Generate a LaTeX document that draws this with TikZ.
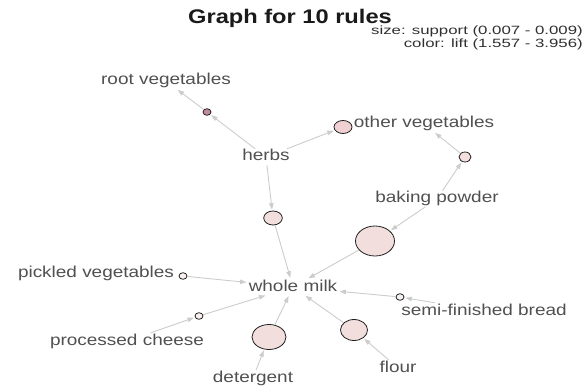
\documentclass[tikz,border=0pt]{standalone}
\usepackage{fontspec}
\setmainfont{Liberation Sans}
\newfontfamily\labfont[FakeStretch=1.2]{Liberation Sans}
\newfontfamily\legfont[FakeStretch=1.4]{Liberation Sans}
\usetikzlibrary{shapes.geometric,arrows.meta}
\definecolor{edgec}{HTML}{CCCCCC}
\definecolor{labc}{HTML}{505050}
\definecolor{titlec}{HTML}{1A1A1A}
\definecolor{legc}{HTML}{303030}
\definecolor{ruleline}{HTML}{202020}
\definecolor{liftmax}{HTML}{C48A9C}
\definecolor{liftmid}{HTML}{F0D0D3}
\definecolor{liftlow}{HTML}{F3DEDE}
\definecolor{liftmin}{HTML}{F9F0F0}
\begin{document}
\begin{tikzpicture}[x=1pt,y=-1pt,
  item/.style={font=\labfont\fontsize{15.8}{18}\selectfont, text=labc, inner sep=1pt, text height=11pt, text depth=3pt},
  rulenode/.style={ellipse, draw=ruleline, line width=0.8pt, inner sep=0pt},
  edge/.style={draw=edgec, line width=0.9pt, -{Triangle[length=6.5pt,width=4.5pt]}, shorten >=1pt},
  legend/.style={font=\legfont\fontsize{12}{14}\selectfont, text=legc, anchor=base east, inner sep=0pt},
]
\useasboundingbox (0,0) rectangle (585,387);
% title and legend
\node[font=\labfont\bfseries\fontsize{19.7}{22}\selectfont, text=titlec, anchor=base] (title) at (290,24) {Graph for 10 rules};
\node[legend] (leg1) at (583,35) {size: support (0.007 - 0.009)};
\node[legend] (leg2) at (583,47.5) {color: lift (1.557 - 3.956)};
% items
\node[item] (rv) at (166,81) {root vegetables};
\node[item] (herbs) at (266,157) {herbs};
\node[item] (ov) at (424,124) {other vegetables};
\node[item] (bp) at (437,199) {baking powder};
\node[item] (pv) at (96,273) {pickled vegetables};
\node[item] (wm) at (293,287) {whole milk};
\node[item] (sfb) at (484,311) {semi-finished bread};
\node[item] (pc) at (127,341) {processed cheese};
\node[item] (det) at (253,378) {detergent};
\node[item] (flour) at (398,368) {flour};
% rules
\node[rulenode, fill=liftmax, minimum width=8pt, minimum height=6.6pt] (r1) at (207,112) {};
\node[rulenode, fill=liftmid, minimum width=18pt, minimum height=13pt] (r2) at (343,127) {};
\node[rulenode, fill=liftlow, minimum width=12pt, minimum height=10pt] (r3) at (465,157) {};
\node[rulenode, fill=liftlow, minimum width=18.6pt, minimum height=14pt] (r4) at (273,218) {};
\node[rulenode, fill=liftlow, minimum width=39pt, minimum height=30pt] (r5) at (375,241) {};
\node[rulenode, fill=liftmin, minimum width=8pt, minimum height=6.6pt] (r6) at (183,276) {};
\node[rulenode, fill=liftmin, minimum width=8pt, minimum height=6.6pt] (r7) at (199,316) {};
\node[rulenode, fill=liftmin, minimum width=8pt, minimum height=6.6pt] (r8) at (400,297) {};
\node[rulenode, fill=liftlow, minimum width=34pt, minimum height=25pt] (r9) at (269,337) {};
\node[rulenode, fill=liftlow, minimum width=27pt, minimum height=21pt] (r10) at (354,330) {};
% edges
\draw[edge] (herbs) -- (r1);
\draw[edge] (r1) -- (rv);
\draw[edge] (herbs) -- (r2);
\draw[edge] (bp) -- (r3);
\draw[edge] (r3) -- (ov);
\draw[edge] (herbs) -- (r4);
\draw[edge] (r4) -- (wm);
\draw[edge] (bp) -- (r5);
\draw[edge] (r5) -- (wm);
\draw[edge] (r6) -- (wm);
\draw[edge] (pc) -- (r7);
\draw[edge] (r7) -- (wm);
\draw[edge] (sfb) -- (r8);
\draw[edge] (r8) -- (wm);
\draw[edge] (det) -- (r9);
\draw[edge] (r9) -- (wm);
\draw[edge] (flour) -- (r10);
\draw[edge] (r10) -- (wm);
\end{tikzpicture}
\end{document}
